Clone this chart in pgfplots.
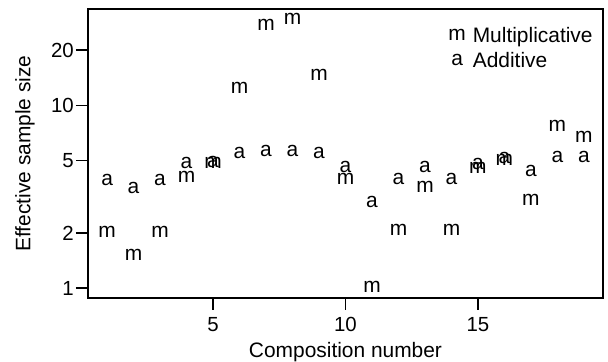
\documentclass[border=0pt]{standalone}
\usepackage{fontspec}
\setmainfont{Liberation Sans}
\usepackage{pgfplots}
\pgfplotsset{compat=1.18}
\begin{document}
\begin{tikzpicture}
\begin{axis}[
  scale only axis,
  width=515bp, height=289bp,
  xmin=0.28, xmax=19.72,
  ymode=log, ymin=0.885, ymax=33.6,
  xtick={5,10,15},
  ytick={1,2,5,10,20},
  yticklabels={1,2,5,10,20},
  xtick pos=bottom, ytick pos=left,
  tick align=outside,
  major tick length=12bp,
  minor tick num=0,
  log ticks with fixed point,
  /pgf/number format/assume math mode=true,
  axis line style={line width=1.6bp, black},
  tick style={line width=1.6bp, black},
  tick label style={font=\fontsize{20.5}{20.5}\selectfont},
  yticklabel style={inner sep=0pt, xshift=-2bp},
  xticklabel style={inner sep=0pt, yshift=-7bp},
  xlabel={Composition number},
  ylabel={Effective sample size},
  label style={font=\fontsize{21}{21}\selectfont},
  xlabel style={at={(rel axis cs:0.5,0)}, anchor=base, yshift=-59bp, inner sep=0pt},
  ylabel style={at={(rel axis cs:0,0.5)}, anchor=center, yshift=63bp, inner sep=0pt},
  legend style={draw=none, fill=none, inner sep=0pt, at={(rel axis cs:0.6994,0.936)}, anchor=north west,
    font=\fontsize{21}{21}\selectfont, row sep=8bp, column sep=7bp, nodes={inner xsep=0pt, inner ysep=0pt}},
  legend cell align=left,
  legend image code/.code={\draw[#1] plot coordinates {(0bp,0bp)};},
]
\addplot[only marks, black, mark=text, text mark={m}, text mark as node=true,
  text mark style={font=\fontsize{21}{21}\selectfont, inner sep=0pt, anchor=center}]
  coordinates {
  (1,2.04) (2,1.52) (3,2.04) (4,4.07) (5,4.83) (6,12.4) (7,27.5) (8,29.6) (9,14.6) (10,3.96)
  (11,1.02) (12,2.08) (13,3.58) (14,2.08) (15,4.55) (16,5.05) (17,3.04) (18,7.71) (19,6.71)
  };
\addlegendentry{Multiplicative}
\addplot[only marks, black, mark=text, text mark={a}, text mark as node=true,
  text mark style={font=\fontsize{21}{21}\selectfont, inner sep=0pt, anchor=center}]
  coordinates {
  (1,3.91) (2,3.53) (3,3.91) (4,4.82) (5,4.88) (6,5.50) (7,5.65) (8,5.65) (9,5.50) (10,4.60)
  (11,2.96) (12,3.96) (13,4.60) (14,3.96) (15,4.78) (16,5.15) (17,4.38) (18,5.22) (19,5.22)
  };
\addlegendentry{Additive}
\coordinate (sw) at (rel axis cs:0,0);
\coordinate (ne) at (rel axis cs:1,1);
\end{axis}
\pgfresetboundingbox
\path ([shift={(-88bp,-64bp)}]sw) rectangle ([shift={(5bp,9bp)}]ne);
\end{tikzpicture}
\end{document}
